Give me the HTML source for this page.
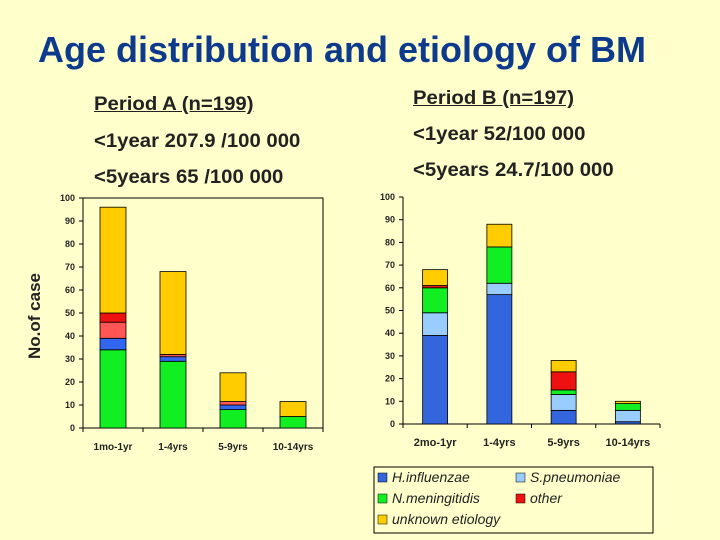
<!DOCTYPE html>
<html><head><meta charset="utf-8"><style>
body{margin:0;width:720px;height:540px;background:#ffffcc;overflow:hidden;position:relative;font-family:"Liberation Sans",sans-serif}
.t{position:absolute;white-space:nowrap;color:#222;font-size:19px;font-weight:bold;transform:scaleX(1.07);transform-origin:left top}
</style></head><body>
<div class="t" style="left:38px;top:29px;font-size:36px;color:#0d3a8c;transform:none">Age distribution and etiology of BM</div>
<div class="t" style="left:94px;top:94px;text-decoration:underline">Period A (n=199)</div>
<div class="t" style="left:94px;top:131px">&lt;1year 207.9 /100 000</div>
<div class="t" style="left:94px;top:167px">&lt;5years 65 /100 000</div>
<div class="t" style="left:413px;top:88px;text-decoration:underline">Period B (n=197)</div>
<div class="t" style="left:413px;top:124px">&lt;1year 52/100 000</div>
<div class="t" style="left:413px;top:160px">&lt;5years 24.7/100 000</div>
<svg id="svg" width="720" height="540" style="position:absolute;left:0;top:0"></svg>
<script>
const catsA=["1mo-1yr","1-4yrs","5-9yrs","10-14yrs"];
const aGreen=[34,29,8,5];
const aBlue=[5,2,2,0];
const aPink=[7,1,1.5,0];
const aRed=[4,0,0,0];
const aYellow=[46,36,12.5,6.5];
const catsB=["2mo-1yr","1-4yrs","5-9yrs","10-14yrs"];
const bHinf=[39,57,6,1];
const bSpn=[10,5,7,5];
const bNmen=[11,16,2,3];
const bOther=[1,0,8,0];
const bUnk=[7,10,5,1];
const ticks=[0,10,20,30,40,50,60,70,80,90,100];
const NS="http://www.w3.org/2000/svg";
const svg=document.getElementById('svg');
function mk(t,a,txt){const e=document.createElementNS(NS,t);for(const k in a)e.setAttribute(k,a[k]);if(txt!=null)e.textContent=txt;svg.appendChild(e);return e;}
function chart(cfg){
 const y=v=>cfg.y0-(cfg.y0-cfg.y100)*v/100;
 const cw=(cfg.x1-cfg.x0)/cfg.cats.length;
 if(cfg.frame){let r=mk('rect',{x:cfg.x0,y:cfg.y100,width:cfg.x1-cfg.x0,height:cfg.y0-cfg.y100,fill:'none',stroke:'#000','stroke-width':1});
 }
 let ax=mk('line',{x1:cfg.x0,y1:cfg.y100,x2:cfg.x0,y2:cfg.y0,stroke:'#000'});
 
 let bx=mk('line',{x1:cfg.x0,y1:cfg.y0,x2:cfg.x1,y2:cfg.y0,stroke:'#000'});
 
 ticks.forEach(t=>{mk('line',{x1:cfg.x0-4,x2:cfg.x0,y1:y(t),y2:y(t),stroke:'#000'});
  let l=mk('text',{x:cfg.x0-8,y:y(t)+3,'text-anchor':'end','font-size':9,'font-weight':'bold',fill:'#222'},t);
  });
 for(let i=0;i<=cfg.cats.length;i++)mk('line',{x1:cfg.x0+i*cw,x2:cfg.x0+i*cw,y1:cfg.y0,y2:cfg.y0+4,stroke:'#000'});
 cfg.cats.forEach((c,i)=>{const cx=cfg.x0+cw*(i+.5);let cum=0;
  cfg.series.forEach(s=>{const v=s.d[i];if(v>0){let r=mk('rect',{x:cx-cfg.bw/2,y:y(cum+v),width:cfg.bw,height:y(cum)-y(cum+v),fill:s.c,stroke:'#000','stroke-width':0.8});
   }cum+=v;});
  let l=mk('text',{x:cx,y:cfg.y0+22,'text-anchor':'middle','font-size':cfg.fs,'font-weight':'bold',fill:'#222'},c);
  });
}
chart({id:'period-a',x0:83,x1:323,y0:428,y100:198,bw:26,fs:10,frame:true,cats:catsA,series:[
 {n:'green',d:aGreen,c:'#11ee22'},{n:'blue',d:aBlue,c:'#3366ee'},{n:'pink',d:aPink,c:'#ff5555'},{n:'red',d:aRed,c:'#ee1111'},{n:'yellow',d:aYellow,c:'#ffcc00'}]});
chart({id:'period-b',x0:403,x1:660,y0:424,y100:197,bw:25,fs:11,frame:false,cats:catsB,series:[
 {n:'hinfluenzae',d:bHinf,c:'#3366dd'},{n:'spneumoniae',d:bSpn,c:'#99ccff'},{n:'nmeningitidis',d:bNmen,c:'#11ee22'},{n:'other',d:bOther,c:'#ee1111'},{n:'unknown',d:bUnk,c:'#ffcc00'}]});
let yt=mk('text',{x:40,y:316,transform:'rotate(-90 40 316)','text-anchor':'middle','font-size':17,'font-weight':'bold',fill:'#222'},'No.of case');

let lg=mk('rect',{x:374,y:467,width:279,height:66,fill:'#ffffcc',stroke:'#000'});

[['H.influenzae','#3366dd',378,482],['S.pneumoniae','#99ccff',516,482],['N.meningitidis','#11ee22',378,503],['other','#ee1111',516,503],['unknown etiology','#ffcc00',378,524]].forEach(e=>{
 let s=mk('rect',{x:e[2],y:e[3]-9,width:9,height:9,fill:e[1],stroke:'#000','stroke-width':0.5});
 
 let t=mk('text',{x:e[2]+14,y:e[3],'font-size':14,'font-style':'italic',fill:'#222'},e[0]);
 });
</script>
</body></html>
